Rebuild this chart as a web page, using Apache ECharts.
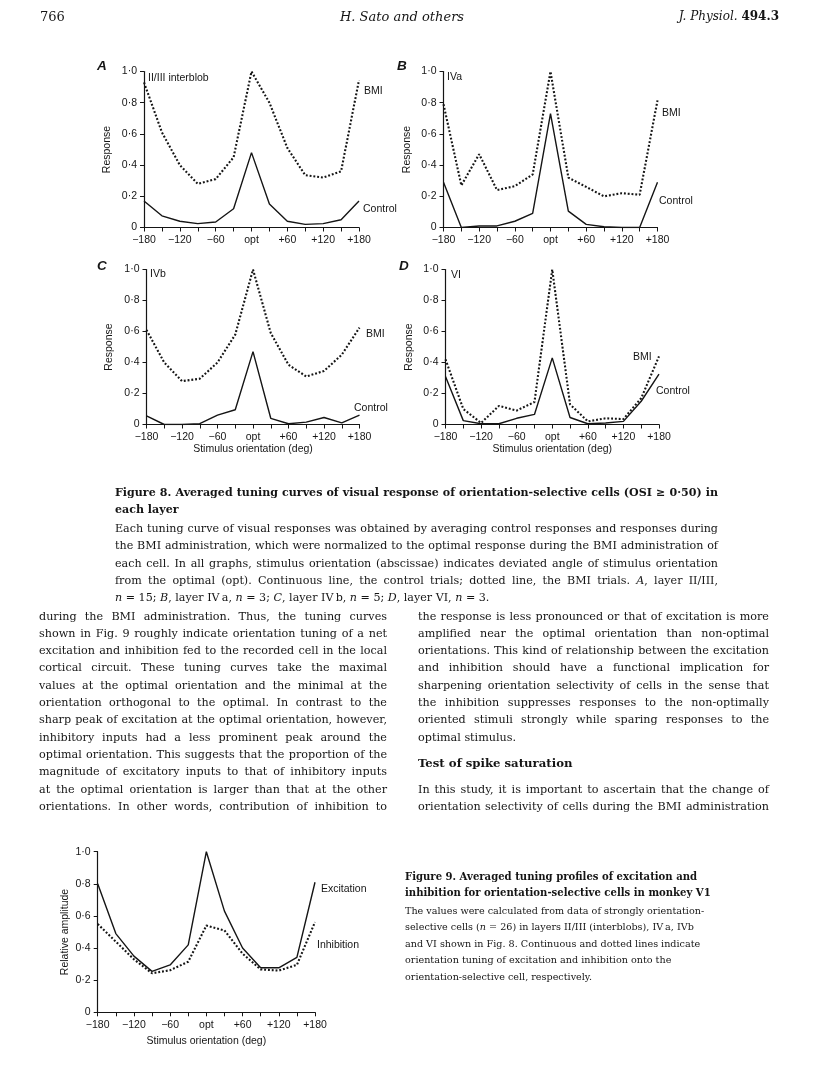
<!DOCTYPE html>
<html><head><meta charset="utf-8">
<script src="https://cdn.jsdelivr.net/npm/echarts@6/dist/echarts.min.js"></script>
<style>
html,body{margin:0;padding:0;background:#fff;}
#page{position:relative;width:816px;height:1071px;overflow:hidden;}
#chart{position:absolute;left:0;top:0;width:816px;height:1071px;}
.t{position:absolute;white-space:nowrap;color:#151515;font-family:"DejaVu Serif","Liberation Serif",serif;line-height:17px;pointer-events:none;}
.j{text-align:justify;text-align-last:justify;}
.bold{font-weight:bold;}
</style></head>
<body><div id="page"><div id="chart"></div><div id="txt"></div></div>
<script>
// ---------- data ----------
const orient = [-180,-150,-120,-90,-60,-30,0,30,60,90,120,150,180];
const aControl = [0.17,0.075,0.04,0.025,0.035,0.12,0.48,0.15,0.04,0.02,0.025,0.05,0.17];
const aBMI     = [0.93,0.61,0.40,0.28,0.31,0.45,1.00,0.80,0.51,0.335,0.32,0.36,0.945];
const bControl = [0.29,0.0,0.01,0.01,0.04,0.09,0.73,0.105,0.02,0.005,0.0,0.0,0.29];
const bBMI     = [0.79,0.27,0.47,0.24,0.265,0.34,1.00,0.32,0.26,0.20,0.22,0.21,0.815];
const cControl = [0.055,0.0,0.0,0.005,0.06,0.095,0.47,0.04,0.005,0.015,0.045,0.01,0.06];
const cBMI     = [0.61,0.40,0.28,0.295,0.40,0.58,1.00,0.59,0.385,0.31,0.345,0.45,0.625];
const dControl = [0.31,0.025,0.005,0.005,0.04,0.065,0.43,0.045,0.005,0.01,0.02,0.15,0.325];
const dBMI     = [0.42,0.10,0.01,0.12,0.09,0.145,1.00,0.13,0.02,0.04,0.035,0.17,0.44];
const excitation = [0.80,0.49,0.35,0.255,0.295,0.42,1.00,0.63,0.40,0.277,0.277,0.342,0.81];
const inhibition = [0.55,0.44,0.33,0.243,0.262,0.315,0.54,0.51,0.365,0.267,0.26,0.295,0.562];
const xTickLabels = {'-180':'\u2212180','-120':'\u2212120','-60':'\u221260','0':'opt','60':'+60','120':'+120','180':'+180'};
const yTickLabels = {'0':'0','0.2':'0\u00b72','0.4':'0\u00b74','0.6':'0\u00b76','0.8':'0\u00b78','1':'1\u00b70'};

// ---------- layout ----------
const INK = '#151515';
const SANS = '"Liberation Sans", Arial, Helvetica, sans-serif';
const SERIF = '"DejaVu Serif", "Liberation Serif", serif';
const grids = [
  {left:144, top:71.5, width:215, height:156},
  {left:443.5, top:71.5, width:214, height:156},
  {left:146.5, top:269.5, width:213, height:155},
  {left:445.5, top:269.5, width:213.5, height:155},
  {left:97.7, top:851.7, width:217.3, height:160.6}
];
const yNames = ['Response','Response','Response','Response','Relative amplitude'];
const yGaps = [31,31,32,31,27];
const xNames = ['','','Stimulus orientation (deg)','Stimulus orientation (deg)','Stimulus orientation (deg)'];
const xGaps = [0,0,19,19,23];

function pair(arr){ return orient.map((x,i)=>[x,arr[i]]); }

const xAxis = grids.map((g,i)=>({
  gridIndex:i, type:'value', min:-180, max:180, interval:30,
  name:xNames[i], nameLocation:'middle', nameGap:xGaps[i],
  nameTextStyle:{fontFamily:SANS,fontSize:10.5,color:INK},
  axisLine:{show:true,onZero:false,lineStyle:{color:INK,width:1.2}},
  axisTick:{show:true,length:4,inside:false,lineStyle:{color:INK,width:1}},
  axisLabel:{show:true,margin:7,fontFamily:SANS,fontSize:10.5,color:INK,
    formatter:v=>xTickLabels[String(v)]||''},
  splitLine:{show:false}
}));
const yAxis = grids.map((g,i)=>({
  gridIndex:i, type:'value', min:0, max:1, interval:0.2, position:'left',
  name:yNames[i], nameLocation:'middle', nameGap:yGaps[i],
  nameTextStyle:{fontFamily:SANS,fontSize:10.5,color:INK},
  axisLine:{show:true,onZero:false,lineStyle:{color:INK,width:1.2}},
  axisTick:{show:true,length:4,inside:false,lineStyle:{color:INK,width:1}},
  axisLabel:{show:true,margin:7,fontFamily:SANS,fontSize:10.5,color:INK,
    formatter:v=>yTickLabels[String(Math.round(v*10)/10)]||''},
  splitLine:{show:false}
}));

const solid = {color:INK,width:1.4,type:'solid'};
const dotted = {color:INK,width:2.1,type:[1.9,1.9],cap:'butt'};
function line(i,arr,style,name){
  return {type:'line',name:name,xAxisIndex:i,yAxisIndex:i,data:pair(arr),
    symbol:'none',lineStyle:style,silent:true,animation:false,z:3};
}
const series = [
  line(0,aControl,solid,'Control'), line(0,aBMI,dotted,'BMI'),
  line(1,bControl,solid,'Control'), line(1,bBMI,dotted,'BMI'),
  line(2,cControl,solid,'Control'), line(2,cBMI,dotted,'BMI'),
  line(3,dControl,solid,'Control'), line(3,dBMI,dotted,'BMI'),
  line(4,excitation,solid,'Excitation'), line(4,inhibition,dotted,'Inhibition')
];

function txt(x,y,s,opt){
  opt=opt||{};
  return {type:'text',left:x,top:y-(opt.size||11)*0.6,silent:true,
    style:{text:s,fill:INK,font:(opt.style||'')+' '+(opt.weight||'normal')+' '+(opt.size||11)+'px '+SANS}};
}
const graphic = [
  txt(97,67,'A',{style:'italic',weight:'bold',size:13.5}),
  txt(397,67,'B',{style:'italic',weight:'bold',size:13.5}),
  txt(97,267,'C',{style:'italic',weight:'bold',size:13.5}),
  txt(399,267,'D',{style:'italic',weight:'bold',size:13.5}),
  txt(148,79,'II/III interblob',{size:10.5}),
  txt(364,92,'BMI',{size:10.5}),
  txt(363,210,'Control',{size:10.5}),
  txt(447,78,'IVa',{size:10.5}),
  txt(662,114,'BMI',{size:10.5}),
  txt(659,202,'Control',{size:10.5}),
  txt(150,275,'IVb',{size:10.5}),
  txt(366,335,'BMI',{size:10.5}),
  txt(354,409,'Control',{size:10.5}),
  txt(451,276,'VI',{size:10.5}),
  txt(633,358,'BMI',{size:10.5}),
  txt(656,392,'Control',{size:10.5}),
  txt(321,890,'Excitation',{size:10.5}),
  txt(317,946,'Inhibition',{size:10.5})
];

const chart = echarts.init(document.getElementById('chart'),null,{renderer:'canvas'});
chart.setOption({
  backgroundColor:'#fff', animation:false,
  grid:grids.map(g=>Object.assign({containLabel:false},g)),
  xAxis:xAxis, yAxis:yAxis, series:series, graphic:graphic
});

// ---------- page text ----------
const T = document.getElementById('txt');
const mctx = document.createElement('canvas').getContext('2d');
function plain(h){ return h.replace(/<[^>]+>/g,''); }
function natural(h,weight){ mctx.font = weight+' 100px '+SERIF; return mctx.measureText(plain(h)).width/100; }
// font size so that every given line fits its width
function fit(lines,width,weight,cap){
  let s = cap||20;
  lines.forEach(h=>{ s = Math.min(s, width/natural(h,weight)); });
  return Math.floor(s*0.995*100)/100;
}
function put(x,y,w,html,cls,size,right){
  const d=document.createElement('div');
  d.className='t '+cls;
  if(right!==undefined) d.style.right=right+'px'; else d.style.left=x+'px';
  d.style.top=(y-8.5)+'px';
  if(w) d.style.width=w+'px';
  d.style.fontSize=size+'px';
  d.innerHTML=html; T.appendChild(d);
}
// header
put(40,16,0,'766','',13);
put(340,16,0,'<i>H. Sato and others</i>','',13);
put(0,16,0,'<i>J. Physiol.</i> <b>494.3</b>','',12,37);

// Figure 8 caption
const f8title = ['Figure 8. Averaged tuning curves of visual response of orientation-selective cells (OSI \u2265 0\u00b750) in','each layer'];
const f8body = [
 'Each tuning curve of visual responses was obtained by averaging control responses and responses during',
 'the BMI administration, which were normalized to the optimal response during the BMI administration of',
 'each cell. In all graphs, stimulus orientation (abscissae) indicates deviated angle of stimulus orientation',
 'from the optimal (opt). Continuous line, the control trials; dotted line, the BMI trials. <i>A</i>, layer II/III,',
 '<i>n</i> = 15; <i>B</i>, layer IV\u2009a, <i>n</i> = 3; <i>C</i>, layer IV\u2009b, <i>n</i> = 5; <i>D</i>, layer VI, <i>n</i> = 3.'
];
const sT8 = fit([f8title[0]],603,'bold',12.5);
const sB8 = fit(f8body.slice(0,4),603,'normal',12.5);
put(115,492,603,f8title[0],'bold j',sT8);
put(115,509,0,f8title[1],'bold',sT8);
const f8y=[528,545.5,563,580,597.5];
f8body.forEach((l,i)=>put(115,f8y[i],i<4?603:0,l,i<4?'j':'',sB8));

// left column
const leftCol = [
 'during the BMI administration. Thus, the tuning curves',
 'shown in Fig. 9 roughly indicate orientation tuning of a net',
 'excitation and inhibition fed to the recorded cell in the local',
 'cortical circuit. These tuning curves take the maximal',
 'values at the optimal orientation and the minimal at the',
 'orientation orthogonal to the optimal. In contrast to the',
 'sharp peak of excitation at the optimal orientation, however,',
 'inhibitory inputs had a less prominent peak around the',
 'optimal orientation. This suggests that the proportion of the',
 'magnitude of excitatory inputs to that of inhibitory inputs',
 'at the optimal orientation is larger than that at the other',
 'orientations. In other words, contribution of inhibition to'
];
// right column
const rightCol = [
 'the response is less pronounced or that of excitation is more',
 'amplified near the optimal orientation than non-optimal',
 'orientations. This kind of relationship between the excitation',
 'and inhibition should have a functional implication for',
 'sharpening orientation selectivity of cells in the sense that',
 'the inhibition suppresses responses to the non-optimally',
 'oriented stimuli strongly while sparing responses to the',
 'optimal stimulus.'
];
const rightCol2 = [
 'In this study, it is important to ascertain that the change of',
 'orientation selectivity of cells during the BMI administration'
];
const sBody = fit(leftCol.concat(rightCol.slice(0,7),rightCol2),349,'normal',14);
leftCol.forEach((s,i)=>put(39,616+i*17.33,348,s,'j',sBody));
rightCol.forEach((s,i)=>put(418,616+i*17.33,i<7?351:0,s,i<7?'j':'',sBody));
put(418,763,0,'Test of spike saturation','bold',sBody+0.5);
rightCol2.forEach((s,i)=>put(418,789+i*17.33,351,s,'j',sBody));

// Figure 9 caption
const f9title = ['Figure 9. Averaged tuning profiles of excitation and','inhibition for orientation-selective cells in monkey V1'];
const f9body = [
 'The values were calculated from data of strongly orientation-',
 'selective cells (<i>n</i> = 26) in layers II/III (interblobs), IV\u2009a, IVb',
 'and VI shown in Fig. 8. Continuous and dotted lines indicate',
 'orientation tuning of excitation and inhibition onto the',
 'orientation-selective cell, respectively.'
];
const sT9 = fit([f9title[0]],294,'bold',13);
const sB9 = fit([f9body[0]],301,'normal',13);
put(405,876,0,f9title[0],'bold',sT9);
put(405,892.5,0,f9title[1],'bold',sT9);
f9body.forEach((l,i)=>put(405,910+i*16.5,0,l,'',sB9));
</script>
</body></html>
